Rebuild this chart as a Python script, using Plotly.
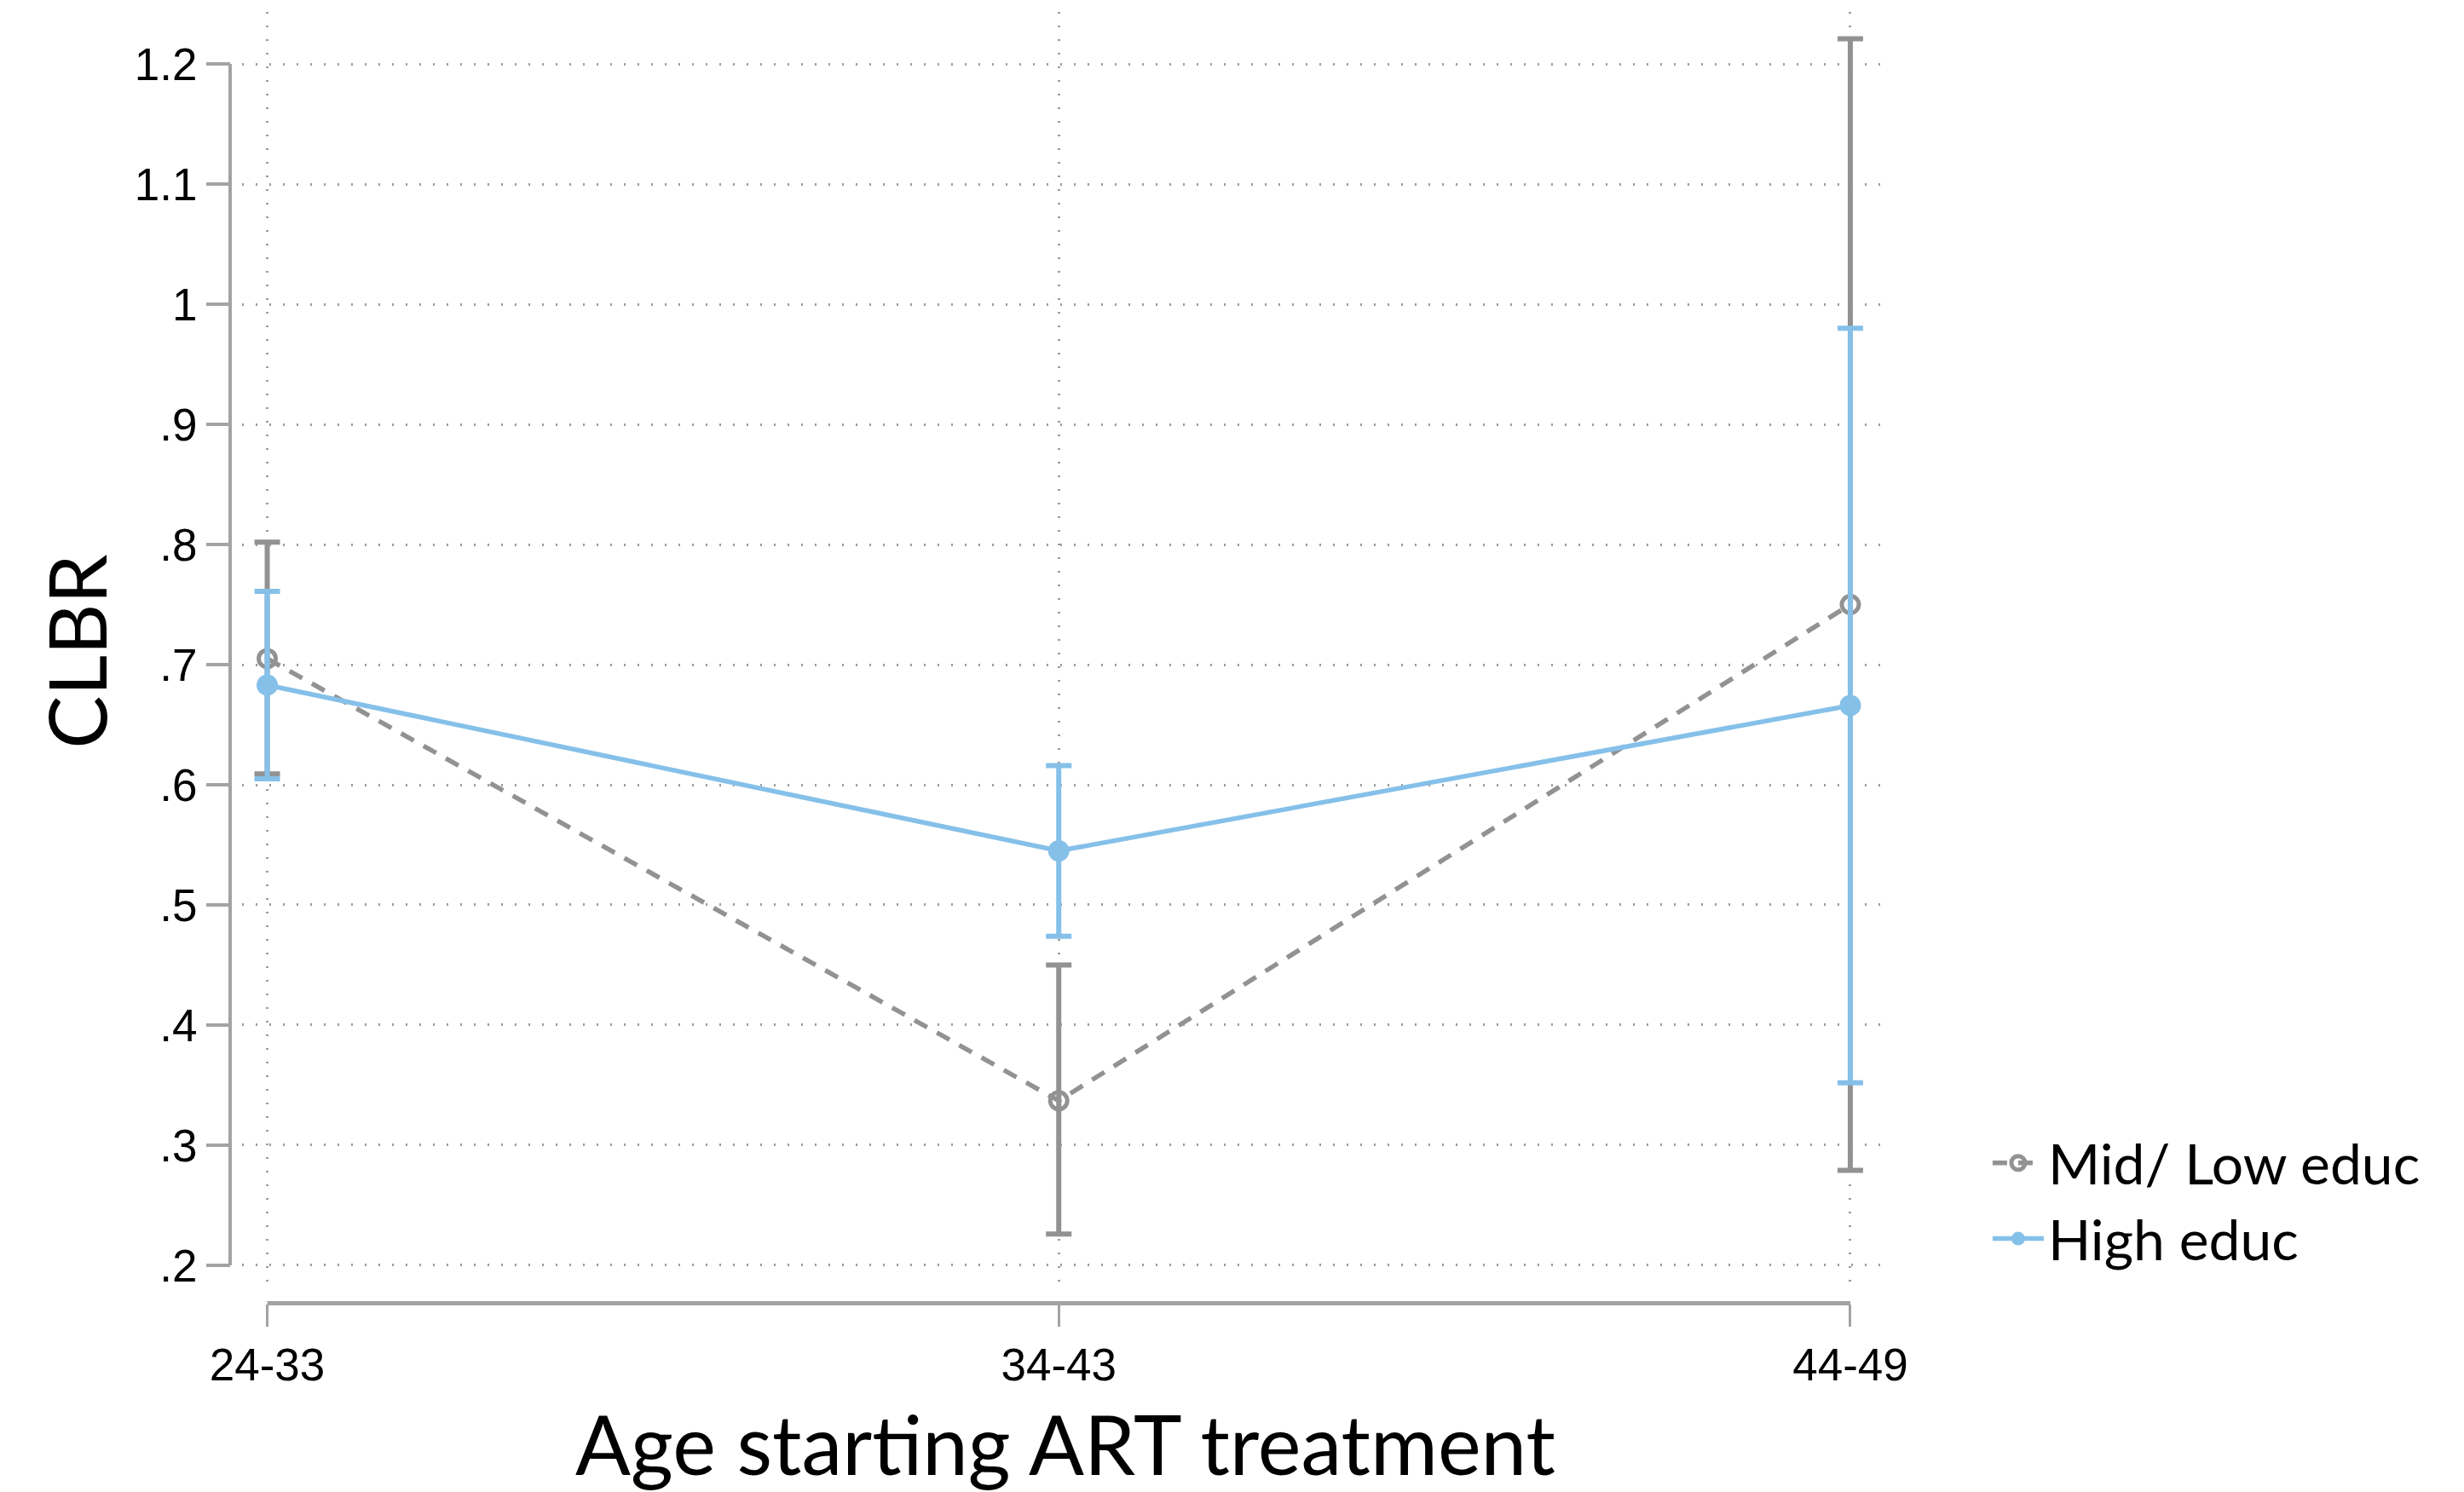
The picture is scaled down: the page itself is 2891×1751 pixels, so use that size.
import plotly.graph_objects as go

# ---------------- data ----------------
categories = ["24-33", "34-43", "44-49"]

mid_low_name = "Mid/ Low educ"
mid_low = [0.705, 0.337, 0.750]
mid_low_upper = [0.802, 0.450, 1.221]
mid_low_lower = [0.609, 0.226, 0.279]

high_name = "High educ"
high = [0.683, 0.545, 0.666]
high_upper = [0.761, 0.616, 0.980]
high_lower = [0.605, 0.474, 0.352]

y_tickvals = [0.2, 0.3, 0.4, 0.5, 0.6, 0.7, 0.8, 0.9, 1.0, 1.1, 1.2]
y_ticktext = [".2", ".3", ".4", ".5", ".6", ".7", ".8", ".9", "1", "1.1", "1.2"]

x_title = "Age starting ART treatment"
y_title = "CLBR"

# ---------------- style ----------------
GRAY = "#929292"
BLUE = "#85C0E9"
AXIS = "#a3a3a3"
GRID = "#9c9c9c"
TICK_FONT = "Liberation Sans, Arial, sans-serif"
TEXT_FONT = "Lato, Raleway, Noto Sans, sans-serif"

W, H = 2891, 1751
ML, MR, MT, MB = 200, 675, 14, 150
x_dom0 = 0.041667
y_dom0 = 0.05419
y_axis_pos = 0.034722
x_axis_pos = 0.04505


def plus(v, u):
    return [b - a for a, b in zip(v, u)]


def minus(v, l):
    return [a - b for a, b in zip(v, l)]


fig = go.Figure()

fig.add_trace(go.Scatter(
    x=categories, y=mid_low, name=mid_low_name, mode="lines+markers",
    line=dict(color=GRAY, width=5.5, dash="17px,13px"),
    marker=dict(symbol="circle-open", size=20, color=GRAY, line=dict(width=5, color=GRAY)),
    error_y=dict(type="data", array=plus(mid_low, mid_low_upper),
                 arrayminus=minus(mid_low, mid_low_lower),
                 color=GRAY, thickness=6, width=15),
))

fig.add_trace(go.Scatter(
    x=categories, y=high, name=high_name, mode="lines+markers",
    line=dict(color=BLUE, width=5.5),
    marker=dict(symbol="circle", size=25, color=BLUE),
    error_y=dict(type="data", array=plus(high, high_upper),
                 arrayminus=minus(high, high_lower),
                 color=BLUE, thickness=6, width=15),
))

# Stata-style axis lines spanning only the tick range
fig.add_shape(type="line", xref="paper", yref="y",
              x0=y_axis_pos, x1=y_axis_pos, y0=min(y_tickvals), y1=max(y_tickvals),
              line=dict(color=AXIS, width=4), layer="above")
fig.add_shape(type="line", xref="x", yref="paper",
              x0=categories[0], x1=categories[-1], y0=x_axis_pos, y1=x_axis_pos,
              line=dict(color=AXIS, width=5), layer="above")

fig.update_layout(
    width=W, height=H,
    margin=dict(l=ML, r=MR, t=MT, b=MB, autoexpand=False),
    paper_bgcolor="white", plot_bgcolor="white",
    showlegend=True,
    legend=dict(
        x=1.058, xanchor="left", y=0.180, yanchor="top",
        font=dict(family=TEXT_FONT, size=66, color="black"),
        itemwidth=60, tracegroupgap=0, bgcolor="rgba(0,0,0,0)",
    ),
    xaxis=dict(
        domain=[x_dom0, 1], anchor="free", position=x_axis_pos,
        type="category", range=[-0.0318, 2.0485],
        showline=False, zeroline=False,
        showgrid=True, gridcolor=GRID, gridwidth=3, griddash="2px,14px",
        ticks="outside", ticklen=26, tickwidth=3, tickcolor=AXIS,
        tickfont=dict(family=TICK_FONT, size=53, color="black"),
        title=dict(text=x_title, font=dict(family=TEXT_FONT, size=96, color="black"), standoff=34),
    ),
    yaxis=dict(
        domain=[y_dom0, 1], anchor="free", position=y_axis_pos,
        range=[0.1787, 1.2433],
        showline=False, zeroline=False,
        showgrid=True, gridcolor=GRID, gridwidth=3, griddash="2px,14px",
        tickmode="array", tickvals=y_tickvals, ticktext=y_ticktext,
        ticks="outside", ticklen=28, tickwidth=4, tickcolor=AXIS,
        tickfont=dict(family=TICK_FONT, size=53, color="black"),
        title=dict(text=y_title, font=dict(family=TEXT_FONT, size=93, color="black"), standoff=0),
    ),
)

fig.write_html("out.html", config={"displayModeBar": False},
               post_script="document.body.style.margin='0';document.body.style.overflow='hidden';")
